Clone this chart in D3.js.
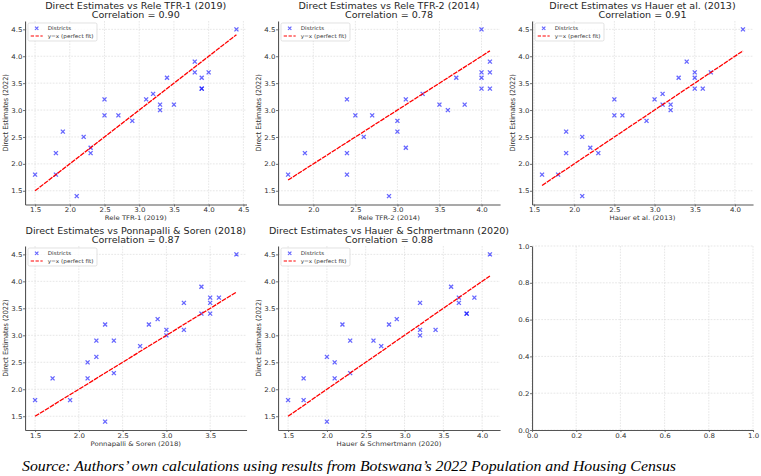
<!DOCTYPE html>
<html><head><meta charset="utf-8">
<script src="https://cdn.jsdelivr.net/npm/d3@7"></script>
<style>body{margin:0;background:#fff} svg{display:block}</style>
</head><body>
<script>
// ---- data ----
const direct = [1.4,1.8,1.8,2.2,2.2,2.3,2.5,2.6,2.8,2.9,2.9,3.0,3.1,3.1,3.2,3.2,3.3,3.4,3.4,3.6,3.6,3.7,3.7,3.9,4.5];
const releTFR1 = [2.1,1.5,1.8,1.8,2.3,2.3,2.2,1.9,2.9,2.5,2.7,3.3,3.3,3.5,2.5,3.1,3.2,3.9,3.9,3.4,3.9,3.8,4.0,3.8,4.4];
const releTFR2 = [2.9,1.7,2.4,1.9,2.4,3.1,2.6,3.0,3.0,2.5,2.7,3.6,3.5,3.8,2.4,3.1,3.3,4.0,4.1,3.7,4.0,4.0,4.1,4.1,4.0];
const hauer2013 = [2.1,1.6,1.8,1.9,2.3,2.2,2.1,1.9,2.9,2.5,2.6,3.2,3.1,3.2,2.5,3.0,3.1,3.5,3.6,3.3,3.5,3.5,3.7,3.4,4.1];
const ponnapalli2018 = [2.3,1.5,1.9,1.7,2.1,2.4,2.1,2.2,2.7,2.2,2.4,3.0,3.0,3.2,2.3,2.8,2.9,3.4,3.5,3.2,3.5,3.5,3.6,3.4,3.8];
const hauerSchmertmann2020 = [2.0,1.5,1.7,1.7,2.1,2.3,2.1,2.0,2.7,2.3,2.6,3.2,3.2,3.4,2.2,2.8,2.9,3.8,3.8,3.2,3.7,3.7,3.9,3.6,4.1];
const methods = ["Rele TFR-1 (2019)","Rele TFR-2 (2014)","Hauer et al. (2013)","Ponnapalli & Soren (2018)","Hauer & Schmertmann (2020)"];
const correlations = ["0.90","0.78","0.91","0.87","0.88"];
const yTicks = [1.5,2.0,2.5,3.0,3.5,4.0,4.5];
const xTicks = [
  [1.5,2.0,2.5,3.0,3.5,4.0,4.5],
  [2.0,2.5,3.0,3.5,4.0],
  [1.5,2.0,2.5,3.0,3.5,4.0],
  [1.5,2.0,2.5,3.0,3.5],
  [1.5,2.0,2.5,3.0,3.5,4.0]
];
const emptyTicks = [0.0,0.2,0.4,0.6,0.8,1.0];
const legendLabels = ["Districts","y=x (perfect fit)"];
const yLabel = "Direct Estimates (2022)";
const sourceText = "Source: Authors\u2019 own calculations using results from Botswana\u2019s 2022 Population and Housing Census";

// ---- layout ----
const W = 761, H = 476, SX = 1.1;
const FONT = "DejaVu Sans";
const cols = [[25,246.5],[278,500],[532,753]];
const rows = [[21,204.5],[246,430]];
const series = [releTFR1, releTFR2, hauer2013, ponnapalli2018, hauerSchmertmann2020];

const svg = d3.select("body").append("svg").attr("width",W).attr("height",H);
svg.append("rect").attr("width",W).attr("height",H).attr("fill","#fff");
const root = svg.append("g").attr("transform",`scale(${SX},1)`);

const fmt = d3.format(".1f");
function padDomain(vals){
  const [a,b] = d3.extent(vals); const m = (b-a)*0.05; return [a-m,b+m];
}

function drawPanel(idx){
  const c = idx % 3, r = Math.floor(idx/3);
  const left = cols[c][0], right = cols[c][1], top = rows[r][0], bottom = rows[r][1];
  const w = (right-left)/SX, h = bottom-top;
  const g = root.append("g").attr("transform",`translate(${left/SX},${top})`);
  const empty = idx >= series.length;
  let x, y, xt, yt;
  if (empty){
    x = d3.scaleLinear().domain([0,1]).range([0,w]);
    y = d3.scaleLinear().domain([0,1]).range([h,0]);
    xt = emptyTicks; yt = emptyTicks;
  } else {
    const xs = series[idx];
    x = d3.scaleLinear().domain(padDomain(xs)).range([0,w]);
    y = d3.scaleLinear().domain(padDomain(direct.concat(d3.extent(xs)))).range([h,0]);
    xt = xTicks[idx]; yt = yTicks;
  }
  // grid
  const grid = g.append("g").attr("stroke","#d9d9d9").attr("stroke-width",0.6).attr("stroke-dasharray","1.6,1.2");
  xt.forEach(t=>grid.append("line").attr("x1",x(t)).attr("x2",x(t)).attr("y1",0).attr("y2",h));
  yt.forEach(t=>grid.append("line").attr("x1",0).attr("x2",w).attr("y1",y(t)).attr("y2",y(t)));

  if (!empty){
    const xs = series[idx];
    const pts = xs.map((v,i)=>[v,direct[i]]);
    const s = 2.0;
    g.append("g").selectAll("path").data(pts).join("path")
      .attr("d",d=>`M${x(d[0])-s/SX},${y(d[1])-s}L${x(d[0])+s/SX},${y(d[1])+s}M${x(d[0])-s/SX},${y(d[1])+s}L${x(d[0])+s/SX},${y(d[1])-s}`)
      .attr("stroke","blue").attr("stroke-opacity",0.6).attr("stroke-width",1.2).attr("fill","none");
    const [mn,mx] = d3.extent(xs);
    g.append("line").attr("x1",x(mn)).attr("y1",y(mn)).attr("x2",x(mx)).attr("y2",y(mx))
      .attr("stroke","red").attr("stroke-width",1.25).attr("stroke-dasharray","4.5,0.9");
  }

  // axes
  const ax = g.append("g").attr("transform",`translate(0,${h})`)
    .call(d3.axisBottom(x).tickValues(xt).tickFormat(fmt).tickSize(2).tickSizeOuter(0).tickPadding(1.2));
  const ay = g.append("g")
    .call(d3.axisLeft(y).tickValues(yt).tickFormat(fmt).tickSize(1.8).tickSizeOuter(0).tickPadding(0.6));
  [ax,ay].forEach(a=>{
    a.select(".domain").attr("stroke","#555").attr("stroke-width",1);
    a.selectAll(".tick line").attr("stroke","#555").attr("stroke-width",0.8);
    a.selectAll("text").attr("font-family",FONT).attr("font-size",6.4).attr("fill","#333");
  });

  if (empty) return;

  // titles (two lines)
  [`Direct Estimates vs ${methods[idx]}`, `Correlation = ${correlations[idx]}`].forEach((t,i)=>{
    g.append("text").attr("x",w/2).attr("y",i===0?-11.6:-3.2)
      .attr("text-anchor","middle").attr("font-family",FONT).attr("font-size",8.7).attr("fill","#262626").text(t);
  });
  // axis labels
  g.append("text").attr("x",w/2).attr("y",h+16).attr("text-anchor","middle")
    .attr("font-family",FONT).attr("font-size",6.3).attr("fill","#333").text(methods[idx]);
  g.append("text").attr("transform",`translate(${-17/SX},${h/2}) rotate(-90)`).attr("text-anchor","middle")
    .attr("font-family",FONT).attr("font-size",6.5).attr("fill","#333").text(yLabel);

  // legend
  const lg = g.append("g").attr("transform",`translate(${3/SX},2)`);
  lg.append("rect").attr("width",69/SX).attr("height",18).attr("rx",1.5)
    .attr("fill","#fff").attr("fill-opacity",0.8).attr("stroke","#d0d0d0").attr("stroke-width",0.6);
  const mx0 = 8.7/SX, my0 = 5.3, s2 = 1.7;
  lg.append("path").attr("d",`M${mx0-s2/SX},${my0-s2}L${mx0+s2/SX},${my0+s2}M${mx0-s2/SX},${my0+s2}L${mx0+s2/SX},${my0-s2}`)
    .attr("stroke","blue").attr("stroke-opacity",0.6).attr("stroke-width",1.1);
  lg.append("line").attr("x1",2.7/SX).attr("x2",14.7/SX).attr("y1",13).attr("y2",13)
    .attr("stroke","red").attr("stroke-width",1.2).attr("stroke-dasharray","3,1.4");
  legendLabels.forEach((t,i)=>{
    lg.append("text").attr("x",19.7/SX).attr("y",i===0?7:14.8)
      .attr("font-family",FONT).attr("font-size",5.2).attr("fill","#333").text(t);
  });
}

for (let i=0;i<6;i++) drawPanel(i);

svg.append("text").attr("x",22).attr("y",471).attr("font-family","Liberation Serif, Times New Roman, serif")
  .attr("font-style","italic").attr("font-size",13.6).attr("fill","#000")
  .attr("textLength",654).attr("lengthAdjust","spacingAndGlyphs").text(sourceText);
</script>
</body></html>
